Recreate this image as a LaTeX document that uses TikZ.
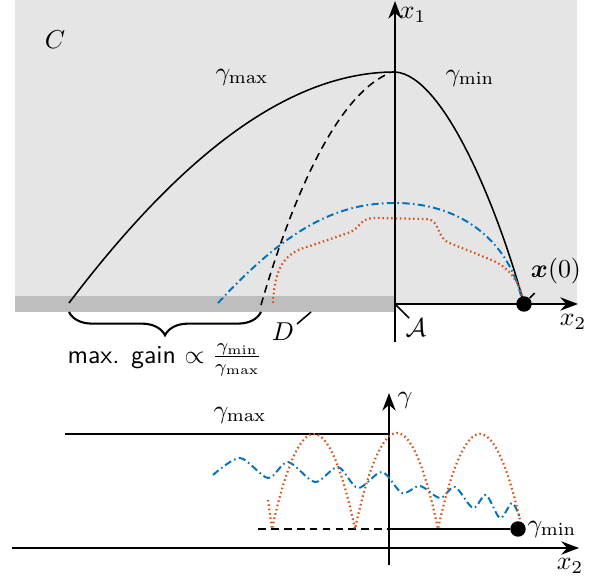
\documentclass[tikz,border=0pt]{standalone}
\usepackage{amsmath}
\usepackage{amssymb}
\usepackage{bm}
\usepackage{tikz}
\usetikzlibrary{arrows.meta,decorations.pathreplacing}
\definecolor{mblue}{RGB}{0,114,189}
\definecolor{morange}{RGB}{217,83,25}
\definecolor{lgray}{RGB}{229,229,229}
\definecolor{dgray}{RGB}{190,190,190}
\tikzset{
  ax/.style={-{Stealth[length=2.4mm,width=1.8mm]}, thick},
  crv/.style={semithick},
  crvd/.style={semithick, dash pattern=on 3pt off 2pt},
  blu/.style={line width=0.75pt, mblue, dash pattern=on 2.8pt off 1.3pt on 0.6pt off 1.3pt},
  org/.style={line width=0.85pt, morange, dash pattern=on 0.6pt off 1.1pt},
  lead/.style={semithick},
  pt/.style={circle, fill=black, inner sep=0pt, minimum size=2.1mm}
}

\begin{document}
\begin{tikzpicture}[x=0.0136cm, y=-0.0136cm]
\useasboundingbox (0,0) rectangle (597,577);
% upper picture: state space
\fill[lgray] (15,0) rectangle (577,304);
\fill[dgray] (15,296) rectangle (395,312);
\coordinate (O1) at (395,304);
\coordinate (x1b) at (395,342);
\coordinate (x1t) at (395,1);
\coordinate (x2t) at (578,304);
\draw[ax] (x1b) -- (x1t);
\draw[ax] (O1) -- (x2t);
\node (lx1) at (413,15) {$x_1$};
\node (lx2) at (573,322) {$x_2$};
\node (lC) at (55,40) {$C$};
\node (lgmax) at (242,77) {$\gamma_\mathrm{max}$};
\node (lgmin) at (470,78) {$\gamma_\mathrm{min}$};
\node (lA) at (416,328) {$\mathcal{A}$};
\node (lD) at (283,332) {$D$};
\node (lx0) at (556,271) {$\bm{x}(0)$};
\draw[lead] (O1) -- (409,318);
\draw[lead] (297,324) -- (311,312);
\draw[crv] (69,303) .. controls (170,170) and (280,72) .. (395,72);
\draw[crv] (395,72) .. controls (445,75) and (500,215) .. (524,304);
\draw[crvd] (261,305) .. controls (290,205) and (335,95) .. (390,73);
\draw[blu] (218,303) .. controls (290,225) and (340,203) .. (395,203)
  .. controls (465,203) and (510,245) .. (522,300);
\draw[org] (273,303) .. controls (275,262) and (288,252) .. (310,246) -- (348,233)
  .. controls (362,228) and (358,218) .. (376,218) -- (426,219)
  .. controls (442,220) and (434,238) .. (452,244) -- (494,261)
  .. controls (512,270) and (519,284) .. (523,298);
\node[pt] (x0) at (524,304) {};
\draw[lead] (x0) -- (lx0);
\draw[thick, decorate, decoration={brace, amplitude=9pt}] (261,312) -- (69,312);
\node (gain) at (165,360) {\textsf{max. gain} $\propto \frac{\gamma_\mathrm{min}}{\gamma_\mathrm{max}}$};
% lower picture: gamma over x2
\coordinate (gb) at (389,565);
\coordinate (gt) at (389,393);
\coordinate (x2l) at (12,548);
\coordinate (x2r) at (579,548);
\draw[ax] (gb) -- (gt);
\draw[ax] (x2l) -- (x2r);
\node (lg) at (405,400) {$\gamma$};
\node (lx2b) at (570,566) {$x_2$};
\coordinate (gmaxl) at (65,434);
\coordinate (gmaxr) at (389,434);
\draw[thick] (gmaxl) -- (gmaxr);
\node (lgmaxb) at (240,415) {$\gamma_\mathrm{max}$};
\coordinate (gminl) at (258,529);
\coordinate (gminm) at (389,529);
\node[pt] (gmin) at (518,529) {};
\draw[thick, dash pattern=on 3pt off 2pt] (gminl) -- (gminm);
\draw[thick] (gminm) -- (gmin);
\node (lgminb) at (552,529) {$\gamma_\mathrm{min}$};
\draw[blu] plot[smooth] coordinates {(213,475) (240,458) (268,478) (288,462) (315,482) (338,467) (358,488) (382,472) (402,493) (420,486) (440,498) (455,487) (473,508) (486,495) (500,518) (512,503) (520,518)};
\draw[org] (268,500) .. controls (270,515) .. (272,529) parabola bend (314,434) (355,529) parabola bend (397,433) (438,529) parabola bend (480,434) (520,520);
\end{tikzpicture}
\end{document}
